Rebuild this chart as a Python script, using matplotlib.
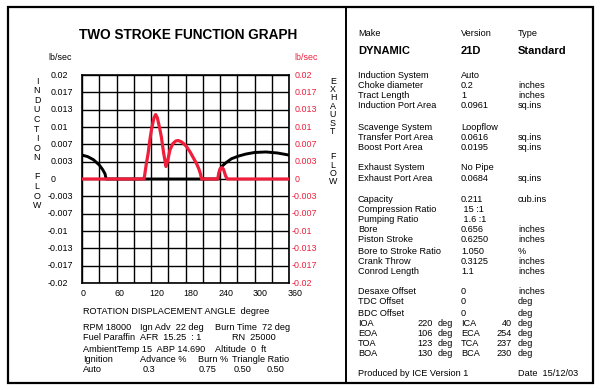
import numpy as np
import matplotlib
matplotlib.use("Agg")
import matplotlib.pyplot as plt
from matplotlib.transforms import blended_transform_factory
from matplotlib.patches import Rectangle
from matplotlib.lines import Line2D

plt.rcParams['font.family'] = ['Liberation Sans', 'DejaVu Sans']

# induction flow (black), lb/sec against crank angle
ind_deg = [0, 10, 20, 30, 36, 40, 42, 100, 200, 237, 238, 240, 243, 250, 260, 272, 285, 300, 320, 340, 360]
ind_val = [0.0046, 0.0043, 0.0037, 0.0027, 0.0018, 0.0010, 0.0, 0.0, 0.0, 0.0, 0.0008, 0.0018, 0.0024,
           0.0031, 0.0039, 0.0044, 0.0048, 0.0051, 0.0052, 0.0050, 0.0046]

# exhaust flow (red)
exh_deg = [0, 106, 108, 112, 115, 118, 121, 125, 128, 131, 135, 138, 142, 146, 149, 153, 158, 163, 167,
           172, 177, 182, 188, 194, 199, 203, 206, 208, 236, 238, 240, 243, 246, 248, 250, 253, 360]
exh_val = [0.0, 0.0, 0.0, 0.0030, 0.0049, 0.0075, 0.0096, 0.0117, 0.0124, 0.0118, 0.0098, 0.0081, 0.0050,
           0.0024, 0.0035, 0.0056, 0.0068, 0.0073, 0.0074, 0.0072, 0.0068, 0.0062, 0.0052, 0.0040, 0.0030,
           0.0020, 0.0010, 0.0, 0.0, 0.0012, 0.0019, 0.0022, 0.0019, 0.0012, 0.0005, 0.0, 0.0]

xticks = [0, 60, 120, 180, 240, 300, 360]
yticks = list(np.linspace(0.02, -0.02, 13))
ytick_labels = ["0.02", "0.017", "0.013", "0.01", "0.007", "0.003", "0",
                "-0.003", "-0.007", "-0.01", "-0.013", "-0.017", "-0.02"]

bottom_rows = [
    [("RPM 18000", 83), ("Ign Adv  22 deg", 140), ("Burn Time  72 deg", 215)],
    [("Fuel Paraffin", 83), ("AFR  15.25  : 1", 140), ("RN  25000", 232)],
    [("AmbientTemp 15  ABP 14.690", 83), ("Altitude  0  ft", 215)],
    [("Ignition", 83), ("Advance %", 140), ("Burn %", 198), ("Triangle Ratio", 232)],
    [("Auto", 83), ("0.3", 143), ("0.75", 199), ("0.50", 234), ("0.50", 267)],
]
bottom_y = [328, 338, 349, 359, 369]

# right panel: label, value, unit, row y
spec_rows = [
    ("Induction System", "Auto", "", 75),
    ("Choke diameter", "0.2", "inches", 86),
    ("Tract Length", "1", "inches", 96),
    ("Induction Port Area", "0.0961", "sq.ins", 106),
    ("Scavenge System", "Loopflow", "", 127),
    ("Transfer Port Area", "0.0616", "sq.ins", 137),
    ("Boost Port Area", "0.0195", "sq.ins", 147),
    ("Exhaust System", "No Pipe", "", 168),
    ("Exhaust Port Area", "0.0684", "sq.ins", 179),
    ("Capacity", "0.211", "cub.ins", 199),
    ("Compression Ratio", " 15 :1", "", 210),
    ("Pumping Ratio", " 1.6 :1", "", 220),
    ("Bore", "0.656", "inches", 230),
    ("Piston Stroke", "0.6250", "inches", 240),
    ("Bore to Stroke Ratio", "1.050", "%", 251),
    ("Crank Throw", "0.3125", "inches", 261),
    ("Conrod Length", "1.1", "inches", 272),
    ("Desaxe Offset", "0", "inches", 292),
    ("TDC Offset", "0", "deg", 302),
    ("BDC Offset", "0", "deg", 313),
]
port_rows = [("IOA", "220", "ICA", "40", 323), ("EOA", "106", "ECA", "254", 333),
             ("TOA", "123", "TCA", "237", 343), ("BOA", "130", "BCA", "230", 354)]

RED = '#ef1f3c'
W, H = 600, 390

fig = plt.figure(figsize=(6, 3.9), dpi=100)
fig.patch.set_facecolor('white')


def px(x, y):
    return x / W, 1 - y / H


def ftext(x, y, s, **kw):
    kw.setdefault('fontsize', 6.6)
    kw.setdefault('va', 'center')
    fig.text(*px(x, y), s, **kw)


# frame and divider
fig.patches.append(Rectangle(px(8, 383), 585 / W, 376 / H, transform=fig.transFigure,
                             fill=False, lw=1.6, ec='black'))
fig.lines.append(Line2D([346 / W, 346 / W], [1 - 7 / H, 1 - 383 / H], transform=fig.transFigure,
                        lw=1.4, color='black'))

ax = fig.add_axes([82 / W, 1 - 283 / H, 207 / W, 208 / H])
ax.plot(ind_deg, ind_val, color='black', lw=2.1, zorder=3)
ax.plot(exh_deg, exh_val, color=RED, lw=2.3, zorder=4)
ax.set_xlim(0, 360)
ax.set_ylim(-0.02, 0.02)
ax.set_xticks(range(0, 361, 30))
ax.set_yticks(yticks)
ax.grid(True, color='black', lw=1.0)
ax.tick_params(length=0, labelleft=False, labelbottom=False)
for s in ax.spines.values():
    s.set_linewidth(1.2)

ty = blended_transform_factory(fig.transFigure, ax.transData)
for v, lab in zip(yticks, ytick_labels):
    xl = 48 if lab.startswith('-') else 51
    xr = 292 if lab.startswith('-') else 295
    ax.text(xl / W, v, lab, transform=ty, fontsize=6.4, ha='left', va='center')
    ax.text(xr / W, v, lab, transform=ty, fontsize=6.4, ha='left', va='center', color=RED)

tx = blended_transform_factory(ax.transData, fig.transFigure)
for d in xticks:
    ax.text(d - 3, 1 - 294 / H, str(d), transform=tx, fontsize=6.4, ha='left', va='center')

ftext(188, 35, "TWO STROKE FUNCTION GRAPH", fontsize=9.8, fontweight='bold', ha='center')
ftext(48, 58, "lb/sec", fontsize=6.4)
ftext(294, 58, "lb/sec", fontsize=6.4, color=RED)

for i, ch in enumerate("INDUCTION FLOW"):
    if ch != ' ':
        ftext(37, 81 + i * 9.6, ch, fontsize=6.4, ha='center')
for i, ch in enumerate("EXHAUST  FLOW"):
    if ch != ' ':
        ftext(333, 81 + i * 8.4, ch, fontsize=6.4, ha='center')

ftext(83, 311, "ROTATION DISPLACEMENT ANGLE  degree")
for row, y in zip(bottom_rows, bottom_y):
    for s, x in row:
        ftext(x, y, s)

# right panel
ftext(358, 33, "Make")
ftext(461, 33, "Version")
ftext(518, 33, "Type")
ftext(358, 51, "DYNAMIC", fontsize=8, fontweight='bold')
ftext(461, 51, "21D", fontsize=8, fontweight='bold')
ftext(518, 51, "Standard", fontsize=8, fontweight='bold')
for lab, val, unit, y in spec_rows:
    ftext(358, y, lab)
    ftext(461, y, val)
    if unit:
        ftext(518, y, unit)
for a, av, b, bv, y in port_rows:
    ftext(358, y, a)
    ftext(433, y, av, ha='right')
    ftext(438, y, "deg")
    ftext(461, y, b)
    ftext(512, y, bv, ha='right')
    ftext(518, y, "deg")
ftext(358, 374, "Produced by ICE Version 1")
ftext(518, 374, "Date  15/12/03")

fig.savefig("out.png", dpi=100, facecolor='white')
